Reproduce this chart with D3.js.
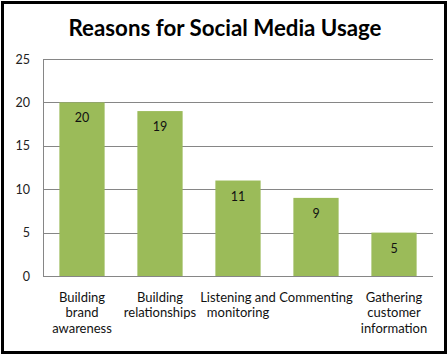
<!DOCTYPE html>
<html><head><meta charset="utf-8">
<script src="https://cdn.jsdelivr.net/npm/d3@7"></script>
<style>
html,body{margin:0;padding:0;background:#fff;}
svg{display:block;}
text{font-family:Lato,"Open Sans",sans-serif;}
</style></head>
<body>
<svg id="c" width="448" height="355"></svg>
<script>
const title = "Reasons for Social Media Usage";
const categories = [
  ["Building","brand","awareness"],
  ["Building","relationships"],
  ["Listening and","monitoring"],
  ["Commenting"],
  ["Gathering","customer","information"]
];
const values = [20, 19, 11, 9, 5];
const yTicks = [0, 5, 10, 15, 20, 25];

const svg = d3.select("#c");
const W = 448, H = 355;
const m = {left: 43, right: 15, top: 59, bottom: 79};

svg.append("rect").attr("x",2.5).attr("y",2.5).attr("width",W-5).attr("height",H-5)
  .attr("fill","#fff").attr("stroke","#000").attr("stroke-width",3);

svg.append("text").attr("x",225).attr("y",36).attr("text-anchor","middle")
  .attr("font-size",22.3).attr("font-weight","bold").attr("fill","#000").text(title);

const x = d3.scaleBand().domain(d3.range(values.length)).range([m.left, W-m.right])
  .paddingInner(0.42).paddingOuter(0.21);
const y = d3.scaleLinear().domain([0,25]).range([H-m.bottom, m.top]);

// gridlines
svg.append("g").selectAll("line").data(yTicks.slice(1)).join("line")
  .attr("x1",m.left).attr("x2",W-m.right)
  .attr("y1",d=>Math.round(y(d))+0.5).attr("y2",d=>Math.round(y(d))+0.5)
  .attr("stroke","#868686").attr("stroke-width",1);

// y axis
const ya = svg.append("g").attr("transform",`translate(${m.left},0)`)
  .call(d3.axisLeft(y).tickValues(yTicks).tickSize(0).tickPadding(13));
ya.select(".domain").attr("stroke","#868686").attr("d",`M0.5,${y(25)}V${Math.round(y(0))+0.5}`);
ya.selectAll("text").attr("font-size",12.5).attr("fill","#222").attr("font-family","Lato,sans-serif");

// bars
svg.append("g").selectAll("rect").data(values).join("rect")
  .attr("x",(d,i)=>x(i)).attr("width",x.bandwidth())
  .attr("y",d=>y(d)).attr("height",d=>y(0)-y(d))
  .attr("fill","#9BBB59");

// x axis line
svg.append("line").attr("x1",m.left).attr("x2",W-m.right)
  .attr("y1",Math.round(y(0))+0.5).attr("y2",Math.round(y(0))+0.5).attr("stroke","#868686");

// value labels
svg.append("g").selectAll("text").data(values).join("text")
  .attr("x",(d,i)=>x(i)+x.bandwidth()/2).attr("y",d=>y(d)+20)
  .attr("text-anchor","middle").attr("font-size",12.5).attr("fill","#111").text(d=>d);

// category labels
const cg = svg.append("g").selectAll("text").data(categories).join("text")
  .attr("text-anchor","middle").attr("font-size",13).attr("fill","#111");
cg.each(function(lines,i){
  d3.select(this).selectAll("tspan").data(lines).join("tspan")
    .attr("x",x(i)+x.bandwidth()/2).attr("y",(d,j)=>302+j*15.3).text(d=>d);
});
</script>
</body></html>
